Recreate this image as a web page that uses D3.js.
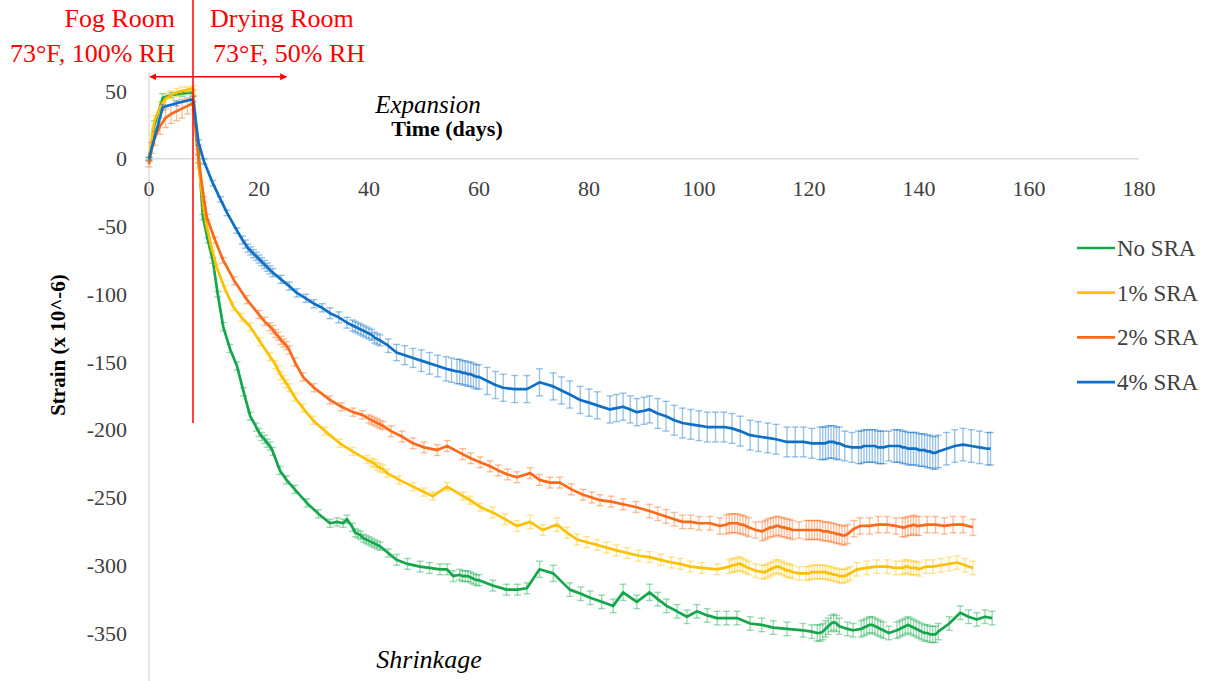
<!DOCTYPE html>
<html>
<head>
<meta charset="utf-8">
<script src="https://cdn.jsdelivr.net/npm/d3@7"></script>
<style>
  body { margin: 0; background: #fff; }
  text { font-family: "Liberation Serif", "Times New Roman", serif; }
</style>
</head>
<body>
<div id="chart"></div>
<script>
// [day, strain, error]
const noSra = [
  [0,0,1],[1,25,3],[2.5,45,3],[4,47,2],[6,48,2],[8,49,2],
  [9,5,2],[9.8,-43,2],[10.7,-60,2],[11.6,-75,2],[12.5,-100,2],[13.5,-124,3],[14.7,-140,3],[16,-153,3],[17.2,-172,3],[18.4,-190,3],[19.5,-198,3],
  [20,-202,3],[20.5,-205,3],[21,-207,3],[21.5,-210,3],[22,-212,3],[22.5,-216,3],
  [23.8,-230,3],[25,-237,3],[26.5,-244,3],[28.7,-254,3],[30.8,-262,3],[32.9,-269,3],[34.2,-268,3],[35.3,-269,3],[36,-266,3],
  [37,-272,3],[37.5,-276,3],[38,-277,3],[38.5,-278,3],[39,-280,3],[39.5,-281,3],[40,-282,3],[40.5,-283,3],[41,-284,3],[41.5,-285,3],[42,-286,3],
  [43.5,-291,3],[45,-296,4],[47,-299,4],[49.3,-301,4],[51,-302,4],[52.9,-303,4],[54.2,-303,4],[55.3,-308,4],
  [56.5,-307,4],[57,-308,4],[57.5,-308,4],[58,-308,4],[58.5,-309,4],[59,-310,4],[59.5,-311,4],[60,-311,4],
  [62.5,-315,4],[65,-318,4],[67,-318,4],[68.7,-317,4],[71,-303,6],[73.5,-306,6],[76.5,-318,5],[78.5,-321,5],[80.2,-324,5],[82.3,-327,5],[84.4,-330,5],
  [86.2,-320,6],[88.7,-327,5],[91,-320,6],[92.5,-325,5],[94.1,-330,5],[96,-334,5],[97.8,-338,5],[99.6,-334,5],[101.5,-337,5],[103.3,-339,5],
  [105,-339,5],[106.9,-339,5],[109.3,-343,5],[111.4,-344,5],[113.5,-346,5],[116,-347,5],[118.9,-348,5],[120.5,-349,5],
  [121.5,-350,6],[122,-350,6],[122.5,-349,6],[123,-347,6],[123.5,-345,6],[124,-343,6],[124.5,-342,6],[125,-343,6],[125.5,-345,6],
  [127,-347,5],[128,-348,5],
  [129.5,-347,6],[130,-346,6],[130.5,-345,6],[131,-344,6],[131.5,-344,6],[132,-345,6],[132.5,-346,6],[133,-347,6],[133.5,-348,6],
  [134.5,-350,5],
  [136,-348,6],[136.5,-347,6],[137,-346,6],[137.5,-345,6],[138,-344,6],[138.5,-345,6],[139,-346,6],[139.5,-347,6],[140,-348,6],[140.5,-349,6],
  [141,-350,6],[141.5,-350,6],[142,-351,6],[142.5,-351,6],[143,-351,6],[143.5,-349,6],
  [145.5,-343,5],[147.5,-335,5],[149,-338,5],[150.5,-340,5],[152,-338,5],[153.3,-339,5]
];

const sra1 = [
  [0,0,2],[0.5,15,3],[1,28,4],[2,38,4],[3,44,4],[4,47,3],[5,49,3],[6,50,3],[7,51,2],[8,52,2],
  [9,-5,2],[10,-38,2],[10.5,-50,2],[11.4,-66,2],[12.3,-80,2],[13.8,-96,2],[15.3,-109,3],[16.8,-117,3],[18.4,-124,3],[20.2,-135,3],[22,-146,3],
  [23,-152,3],[23.5,-156,3],[24,-160,3],[24.5,-163,3],[25,-166,3],[25.5,-169,3],
  [26.5,-176,3],[28,-184,3],[29.8,-193,3],[32,-201,3],[34.7,-210,3],[37,-216,3],[39.6,-222,3],
  [40.5,-224,3],[41,-225,3],[41.5,-227,3],[42,-228,3],[42.5,-229,3],
  [43.3,-232,3],[45.5,-237,3],[48,-242,3],[50,-246,3],[51.6,-249,3],[54.2,-242,3],[57.1,-249,3],[58.4,-252,3],[60.2,-257,3],
  [62.5,-261,4],[64.7,-266,4],[66.9,-271,4],[69.3,-268,5],[71.6,-274,4],[74.2,-270,5],[76,-276,4],[77.8,-281,4],[79.6,-283,4],[81.5,-285,4],
  [83.2,-287,4],[85,-289,4],[87,-291,4],[89,-293,4],[91,-294,4],[93,-296,4],[95,-298,4],[96.6,-299,4],[98.4,-301,4],[100.5,-302,4],[103.3,-303,4],
  [105.5,-301,5],[106,-300,5],[106.5,-300,5],[107,-299,5],[107.5,-299,5],[108,-300,5],[108.5,-301,5],[109,-302,5],
  [110.3,-304,5],
  [111.5,-305,5],[112,-305,5],[112.5,-304,5],[113,-303,5],[113.5,-302,5],[114,-301,5],[114.5,-301,5],[115,-302,5],[115.5,-303,5],[116,-304,5],[116.5,-304,5],[117,-305,5],
  [118.2,-306,5],
  [119.5,-306,5],[120,-306,5],[120.5,-305,5],[121,-305,5],[121.5,-305,5],[122,-305,5],[122.5,-305,5],[123,-305,5],[123.5,-306,5],[124,-306,5],
  [124.5,-307,5],[125,-307,5],[125.5,-308,5],[126,-308,5],[126.5,-308,5],[127,-307,5],[127.5,-306,5],
  [128.7,-303,5],[130.5,-302,5],[132.3,-301,5],[134.2,-301,5],[135.8,-302,5],
  [137,-302,5],[137.5,-301,5],[138,-301,5],[138.5,-302,5],[139,-302,5],[139.5,-302,5],[140,-303,5],
  [141.3,-301,5],[142.5,-301,5],[144,-300,5],[145.5,-299,5],[146.9,-298,5],[148.4,-300,5],[149.8,-302,5]
];

const sra2 = [
  [0,-4,2],[0.5,8,4],[1,15,5],[2,24,6],[3,30,7],[4,33,7],[5,35,7],[6,37,7],[7,39,6],[8,41,5],
  [9,0,3],[10,-30,2],[10.5,-43,2],[12,-60,2],[13.5,-75,2],[15.5,-90,3],[17.8,-104,3],[20,-115,3],[21,-120,3],
  [22,-124,3],[22.5,-126,3],[23,-129,3],[23.5,-131,3],[24,-134,3],[24.5,-136,3],[25,-138,3],[25.5,-141,3],
  [26.5,-150,3],[28,-161,3],[30,-169,3],[32.9,-178,3],[35,-183,3],[37.1,-187,3],[38.8,-189,3],
  [40,-192,3],[40.5,-193,3],[41,-194,3],[41.5,-195,3],[42,-196,3],[42.5,-197,3],
  [44,-201,4],[46,-205,4],[48,-210,4],[50,-213,4],[52.4,-215,4],[54.2,-212,4],[57,-218,4],[58.5,-221,4],[60.2,-224,4],[62,-227,4],[63.5,-230,4],
  [65.2,-233,4],[66.9,-235,4],[69.3,-232,4],[71,-237,4],[72.9,-239,4],[74.7,-239,4],[76.8,-244,4],[78.9,-248,4],[80.5,-250,4],[82,-252,4],
  [84,-253,4],[86.2,-255,4],[88.5,-257,4],[91,-260,5],[92.5,-262,5],[94,-264,5],[95.5,-266,5],[97,-268,5],[98.5,-268,5],[100,-269,5],[102,-269,5],[103.8,-271,6],
  [105,-270,7],[105.5,-269,7],[106,-269,7],[106.5,-269,7],[107,-269,7],[107.5,-270,7],[108,-270,7],[108.5,-271,7],[109,-272,7],
  [110.3,-274,6],
  [111.5,-275,7],[112,-274,7],[112.5,-273,7],[113,-272,7],[113.5,-272,7],[114,-271,7],[114.5,-271,7],[115,-272,7],[115.5,-272,7],[116,-273,7],[116.5,-273,7],[117,-274,7],
  [118.2,-274,6],
  [119.5,-274,7],[120,-274,7],[120.5,-274,7],[121,-274,7],[121.5,-274,7],[122,-274,7],[122.5,-275,7],[123,-275,7],[123.5,-275,7],[124,-276,7],
  [124.5,-276,7],[125,-277,7],[125.5,-277,7],[126,-278,7],[126.5,-278,7],[127,-277,7],
  [128.2,-273,6],[129.3,-271,6],[131,-271,6],[132.6,-270,6],[134.2,-270,6],[135.8,-271,6],
  [137,-272,7],[137.5,-272,7],[138,-271,7],[138.5,-271,7],[139,-270,7],[139.5,-271,7],[140,-271,7],
  [141.5,-270,6],[143,-270,6],[144.6,-271,6],[146.2,-270,6],[148,-270,6],[149.8,-272,6]
];

const sra4 = [
  [0,0,1],[2.5,38,2],[5,41,2],[8,44,2],
  [9,12,2],[10,-2,2],[11.6,-18,2],[13,-30,2],[14.2,-40,2],[16,-53,2],[17,-60,3],
  [17.5,-63,3],[18,-66,3],[18.5,-68,3],[19,-70,3],[19.5,-72,3],[20,-74,3],[20.5,-76,3],[21,-78,3],[21.5,-80,3],[22,-82,3],[22.5,-84,3],
  [24,-89,3],[25.5,-94,3],[26.9,-99,3],[28.5,-103,3],[30,-107,3],[31.5,-110,3],[32.9,-114,4],[34.5,-117,4],[36,-121,4],
  [37,-123,4],[37.5,-124,4],[38,-125,4],[38.5,-126,4],[39,-127,4],[39.5,-128,4],[40,-129,4],[40.5,-130,4],[41,-132,4],[41.5,-133,4],[42,-134,4],
  [43.5,-138,5],[45,-143,6],[46.5,-145,7],[48,-147,7],[49.5,-149,8],[51,-151,8],[52.5,-153,8],[54,-155,9],[55,-156,9],
  [56,-157,9],[56.5,-157,9],[57,-158,9],[57.5,-158,9],[58,-159,9],[58.5,-159,9],[59,-160,9],[59.5,-161,9],[60,-161,9],
  [61.5,-164,10],[63,-167,10],[64.4,-169,10],[66.5,-170,10],[68.7,-170,10],[71,-165,10],[73.5,-168,10],[75,-171,10],[76.5,-174,10],[78.4,-178,10],
  [80,-180,10],[81.5,-182,10],[83.8,-185,10],[85,-184,10],[86.2,-183,10],[87.5,-185,10],[88.7,-187,10],[90,-186,10],[91,-185,10],
  [92.5,-188,11],[94,-190,11],[95.5,-193,11],[97,-195,11],[98.5,-196,11],[100,-197,11],[101.5,-198,11],[103,-198,11],[104.5,-198,11],[106,-199,11],
  [107.5,-201,11],[109.3,-204,11],[110.8,-205,11],[112.5,-206,11],[114,-207,11],[116,-209,11],[117.5,-209,11],[119,-209,11],[120.5,-210,11],
  [122,-210,12],[122.5,-210,12],[123,-210,12],[123.5,-209,12],[124,-209,12],[124.5,-209,12],[125,-210,12],[125.5,-210,12],
  [126.5,-212,11],[127.8,-213,11],
  [129,-213,12],[129.5,-213,12],[130,-212,12],[130.5,-212,12],[131,-212,12],[131.5,-212,12],[132,-212,12],[132.5,-213,12],[133,-213,12],[133.5,-213,12],
  [134.5,-212,11],
  [135.5,-212,12],[136,-212,12],[136.5,-212,12],[137,-213,12],[137.5,-213,12],[138,-214,12],[138.5,-214,12],[139,-214,12],[139.5,-214,12],
  [140,-215,12],[140.5,-215,12],[141,-215,12],[141.5,-216,12],[142,-216,12],[142.5,-217,12],[143,-217,12],[143.5,-216,12],
  [145,-214,12],[146.5,-212,12],[148,-211,12],[149.5,-212,12],[151,-213,12],[152.5,-214,12],[153,-214,12]
];

const seriesNames = ["No SRA", "1% SRA", "2% SRA", "4% SRA"];
const xTicks = [0, 20, 40, 60, 80, 100, 120, 140, 160, 180];
const yTicks = [50, 0, -50, -100, -150, -200, -250, -300, -350];

const ancho = 1217;
const alto = 681;

const lineColors = ["#14a64b", "#ffc000", "#fa6a1a", "#0f6fc4"];

const xScale = d3.scaleLinear().domain([0, 180]).range([149, 1139]);
const yScale = d3.scaleLinear().domain([50, -350]).range([91, 633]);

const svg = d3.select("#chart")
  .append("svg")
  .attr("width", ancho)
  .attr("height", alto);

// ejes (sin marcas)
svg.append("line")
  .attr("x1", xScale(0)).attr("x2", xScale(180))
  .attr("y1", yScale(0)).attr("y2", yScale(0))
  .attr("stroke", "#d9d9d9").attr("stroke-width", 1.3);
svg.append("line")
  .attr("x1", xScale(0)).attr("x2", xScale(0))
  .attr("y1", 73).attr("y2", alto)
  .attr("stroke", "#d9d9d9").attr("stroke-width", 1.3);

svg.append("g").selectAll("text")
  .data(xTicks)
  .enter().append("text")
  .attr("x", d => xScale(d))
  .attr("y", yScale(0) + 37)
  .attr("text-anchor", "middle")
  .attr("font-size", 22)
  .attr("fill", "#404040")
  .text(d => d);

svg.append("g").selectAll("text")
  .data(yTicks)
  .enter().append("text")
  .attr("x", 127)
  .attr("y", d => yScale(d))
  .attr("dy", "0.35em")
  .attr("text-anchor", "end")
  .attr("font-size", 22)
  .attr("fill", "#404040")
  .text(d => d);

// series: barras de error semitransparentes (se oscurecen donde se amontonan)
const allSeries = [noSra, sra1, sra2, sra4];
const line = d3.line().x(d => xScale(d[0])).y(d => yScale(d[1]));

allSeries.forEach((serie, i) => {
  const g = svg.append("g");
  const eb = g.append("g")
    .attr("stroke", lineColors[i])
    .attr("stroke-opacity", 0.42)
    .attr("stroke-width", 1.4)
    .attr("fill", "none");
  eb.selectAll("line.v")
    .data(serie)
    .enter().append("line")
    .attr("x1", d => xScale(d[0])).attr("x2", d => xScale(d[0]))
    .attr("y1", d => yScale(d[1] + d[2])).attr("y2", d => yScale(d[1] - d[2]));
  eb.selectAll("line.t")
    .data(serie)
    .enter().append("line")
    .attr("x1", d => xScale(d[0]) - 3.5).attr("x2", d => xScale(d[0]) + 3.5)
    .attr("y1", d => yScale(d[1] + d[2])).attr("y2", d => yScale(d[1] + d[2]));
  eb.selectAll("line.b")
    .data(serie)
    .enter().append("line")
    .attr("x1", d => xScale(d[0]) - 3.5).attr("x2", d => xScale(d[0]) + 3.5)
    .attr("y1", d => yScale(d[1] - d[2])).attr("y2", d => yScale(d[1] - d[2]));

  g.append("path")
    .datum(serie)
    .attr("d", line)
    .attr("fill", "none")
    .attr("stroke", lineColors[i])
    .attr("stroke-width", 2.7)
    .attr("stroke-linejoin", "round");
});

// leyenda
const leg = svg.append("g");
seriesNames.forEach((name, i) => {
  const ly = 248 + i * 44.7;
  leg.append("line")
    .attr("x1", 1077).attr("x2", 1115)
    .attr("y1", ly).attr("y2", ly)
    .attr("stroke", lineColors[i]).attr("stroke-width", 2.7);
  leg.append("text")
    .attr("x", 1117).attr("y", ly)
    .attr("dy", "0.35em")
    .attr("font-size", 23)
    .attr("fill", "#404040")
    .text(name);
});

// titulos de ejes
svg.append("text")
  .attr("x", 447).attr("y", 136)
  .attr("text-anchor", "middle")
  .attr("font-size", 22).attr("font-weight", "bold")
  .attr("fill", "#000")
  .text("Time (days)");

svg.append("text")
  .attr("transform", "translate(65,345) rotate(-90)")
  .attr("text-anchor", "middle")
  .attr("font-size", 21).attr("font-weight", "bold")
  .attr("fill", "#000")
  .text("Strain (x 10^-6)");

svg.append("text")
  .attr("x", 428).attr("y", 113)
  .attr("text-anchor", "middle")
  .attr("font-size", 25).attr("font-style", "italic")
  .text("Expansion");

svg.append("text")
  .attr("x", 429).attr("y", 668)
  .attr("text-anchor", "middle")
  .attr("font-size", 26).attr("font-style", "italic")
  .text("Shrinkage");

// anotaciones en rojo
const red = "#ff0000";
svg.append("defs").append("marker")
  .attr("id", "flecha")
  .attr("viewBox", "0 0 10 10")
  .attr("refX", 9).attr("refY", 5)
  .attr("markerWidth", 7).attr("markerHeight", 7)
  .attr("markerUnits", "userSpaceOnUse")
  .attr("orient", "auto-start-reverse")
  .append("path")
  .attr("d", "M0,0 L10,5 L0,10 z")
  .attr("fill", red);

svg.append("line")
  .attr("x1", xScale(8)).attr("x2", xScale(8))
  .attr("y1", 0).attr("y2", yScale(-195))
  .attr("stroke", red).attr("stroke-width", 1.5);

svg.append("line")
  .attr("x1", xScale(0.2)).attr("x2", xScale(25))
  .attr("y1", yScale(60.5)).attr("y2", yScale(60.5))
  .attr("stroke", red).attr("stroke-width", 1.5)
  .attr("marker-start", "url(#flecha)")
  .attr("marker-end", "url(#flecha)");

const notas = [
  { t: "Fog Room", x: 175, y: 27, a: "end" },
  { t: "73°F, 100% RH", x: 175, y: 62, a: "end" },
  { t: "Drying Room", x: 210, y: 27, a: "start" },
  { t: "73°F, 50% RH", x: 213, y: 62, a: "start" }
];
svg.append("g").selectAll("text")
  .data(notas)
  .enter().append("text")
  .attr("x", d => d.x).attr("y", d => d.y)
  .attr("text-anchor", d => d.a)
  .attr("font-size", 26)
  .attr("fill", red)
  .text(d => d.t);
</script>
</body>
</html>
